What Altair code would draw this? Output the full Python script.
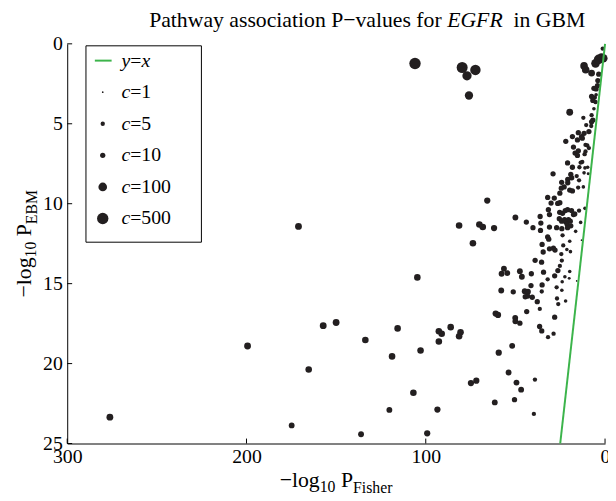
import altair as alt
import pandas as pd

# ---------------- data ----------------
fisher = [276.2, 199.4, 171.0, 174.8, 165.3, 157.2, 150.0, 133.7, 136.1, 115.7,
          118.8, 120.3, 81.4, 70.1, 68.2, 61.9, 73.7, 104.7, 92.7, 91.1,
          86.1, 80.6, 81.4, 92.7, 102.9, 106.9, 93.5, 99.2, 61.0, 59.7,
          74.8, 71.8, 59.3, 61.5, 53.8, 51.8, 49.4, 46.8, 50.5, 39.1,
          39.7, 50.1, 50.0, 47.5, 43.7, 36.5, 35.3, 31.8, 28.7, 28.1,
          36.4, 57.9, 51.2, 57.7, 56.4, 54.5, 47.5, 46.4, 41.1, 34.3,
          32.0, 28.1, 26.3, 41.3, 35.1, 44.8, 43.0, 44.5, 43.1, 40.6,
          35.3, 37.8, 27.0, 24.1, 26.8, 26.1, 22.0, 23.9, 22.4, 19.7,
          20.0, 15.8, 13.1, 35.1, 34.5, 31.0, 28.8, 27.9, 23.3, 24.4,
          21.3, 19.3, 19.7, 39.0, 35.4, 24.1, 25.2, 65.7, 50.0, 43.9,
          40.2, 36.2, 35.8, 36.0, 31.6, 31.0, 31.0, 32.0, 31.4, 32.0,
          28.3, 30.1, 26.4, 25.2, 25.2, 24.4, 29.0, 24.2, 22.8, 20.8,
          20.8, 19.1, 18.6, 19.7, 18.2, 15.8, 14.5, 15.0, 12.1, 20.9,
          18.2, 14.3, 12.7, 13.6, 11.2, 11.7, 9.7, 9.4, 17.6, 16.7,
          15.4, 14.9, 11.4, 10.9, 9.9, 9.0, 21.9, 25.3, 23.7, 22.2,
          20.9, 18.7, 17.6, 16.9, 25.5, 24.2, 22.6, 21.9, 20.4, 19.4,
          21.1, 19.1, 14.5, 11.2, 13.6, 16.4, 24.1, 20.9, 27.0, 23.7,
          14.9, 13.1, 11.7, 18.2, 9.0, 10.5, 15.4, 12.7, 10.9, 19.7,
          12.1, 6.8, 7.5, 7.7, 7.5, 6.2, 5.3, 5.7, 7.5, 6.8,
          5.0, 5.0, 6.2, 4.0, 4.2, 7.5, 3.5, 11.7, 10.8, 106.0,
          79.7, 72.3, 77.0, 75.9, 5.3, 3.5, 2.0, 1.0, 1.3]

ebm = [23.35, 18.9, 11.42, 23.87, 20.37, 17.63, 17.43, 18.52, 24.42, 17.8,
       19.55, 22.9, 11.36, 11.3, 11.46, 11.52, 12.47, 14.61, 17.98, 18.13,
       17.72, 18.04, 18.29, 18.62, 19.18, 21.83, 22.88, 24.36, 16.87, 16.96,
       21.22, 21.07, 19.32, 22.43, 20.56, 18.89, 21.19, 21.63, 22.26, 21.0,
       23.15, 17.14, 17.35, 17.47, 16.75, 17.68, 17.96, 18.35, 18.13, 17.1,
       16.58, 15.43, 15.51, 14.38, 14.07, 14.34, 14.22, 14.57, 14.38, 14.28,
       14.73, 14.51, 14.18, 15.12, 15.08, 15.47, 15.51, 15.82, 15.78, 15.85,
       15.49, 16.13, 15.23, 15.41, 15.93, 16.28, 16.09, 14.88, 14.57, 14.24,
       14.67, 14.83, 12.28, 12.55, 13.02, 12.82, 12.78, 12.9, 12.61, 13.15,
       12.86, 13.0, 12.35, 13.54, 13.66, 13.56, 13.89, 9.8, 10.86, 11.15,
       11.5, 10.8, 11.21, 11.67, 10.37, 10.68, 11.46, 12.08, 12.22, 9.61,
       9.65, 9.96, 9.98, 9.94, 9.34, 9.03, 8.13, 8.66, 8.95, 8.48,
       8.69, 8.17, 8.38, 9.15, 9.2, 8.27, 8.54, 8.99, 8.95, 7.45,
       7.72, 7.72, 7.39, 7.43, 7.76, 8.07, 7.72, 8.13, 6.46, 6.83,
       6.98, 6.69, 6.9, 6.73, 6.36, 6.52, 6.1, 10.54, 10.6, 10.43,
       10.37, 10.43, 10.68, 10.64, 10.94, 11.09, 10.99, 11.15, 11.0, 11.09,
       11.3, 11.38, 10.43, 10.29, 11.17, 11.73, 11.56, 11.5, 11.5, 11.98,
       5.56, 5.8, 5.6, 5.8, 5.49, 5.08, 6.01, 5.9, 6.32, 4.28,
       4.63, 4.77, 4.88, 5.14, 4.46, 4.06, 3.64, 3.35, 3.29, 3.54,
       3.19, 2.82, 2.78, 2.3, 2.61, 1.83, 1.9, 1.38, 1.62, 1.23,
       1.48, 1.63, 2.0, 3.23, 1.22, 0.97, 0.86, 0.9, 0.3]

count = [30, 30, 30, 15, 25, 30, 30, 25, 15, 25,
         25, 15, 25, 25, 25, 20, 25, 25, 25, 25,
         25, 25, 25, 25, 25, 25, 20, 20, 20, 20,
         20, 20, 20, 15, 15, 15, 15, 15, 10, 5,
         5, 15, 15, 10, 10, 10, 10, 5, 5, 10,
         5, 15, 10, 15, 15, 15, 15, 15, 10, 10,
         5, 10, 10, 10, 10, 15, 15, 10, 10, 10,
         5, 10, 5, 3, 5, 5, 3, 3, 3, 3,
         2, 1, 1, 10, 10, 10, 10, 10, 5, 5,
         3, 3, 3, 10, 10, 5, 5, 20, 15, 10,
         10, 10, 10, 10, 10, 10, 10, 10, 10, 10,
         10, 10, 10, 10, 10, 10, 10, 10, 10, 10,
         10, 10, 10, 10, 10, 5, 5, 5, 3, 10,
         10, 5, 5, 5, 3, 3, 3, 2, 10, 10,
         10, 10, 5, 5, 5, 5, 10, 10, 10, 10,
         10, 10, 10, 10, 10, 10, 10, 10, 10, 10,
         10, 10, 5, 3, 3, 3, 10, 10, 10, 5,
         10, 10, 10, 10, 10, 5, 10, 10, 5, 30,
         5, 10, 10, 5, 5, 3, 5, 5, 10, 10,
         3, 10, 10, 10, 10, 30, 10, 50, 50, 500,
         400, 300, 150, 80, 100, 200, 100, 100, 5]

line_x = [0, 25]
line_y = [0, 25]

x_ticks = [0, 100, 200, 300]
y_ticks = [0, 5, 10, 15, 20, 25]

legend_c = [1, 5, 10, 100, 500]
legend_num = ["1", "5", "10", "100", "500"]

# ---------------- layout / style ----------------
W, H = 545, 405
PAD_L, PAD_T, PAD_R, PAD_B = 60, 33, 3, 60
FONT = "Liberation Serif"
INK = "#231f20"
GREEN = "#3cb44b"
FS = 20       # tick / legend font size
AFS = 22      # axis title font size
SUB = 16      # subscript font size
TFS = 22      # title font size

# Times New Roman advance widths (em) for the strings used
REG = {"P": .556, "a": .444, "t": .278, "h": .5, "w": .722, "y": .5, " ": .25,
       "s": .389, "o": .5, "c": .444, "i": .278, "n": .5, "\u2212": .564,
       "v": .5, "l": .278, "u": .5, "e": .444, "f": .333, "r": .333,
       "G": .722, "B": .667, "M": .889, "g": .5, "=": .564, "F": .556,
       "E": .611, "0": .5, "1": .5}
ITA = {"E": .611, "G": .722, "F": .611, "R": .611, "c": .444, "y": .444,
       "x": .444}


def tw(s, size, italic=False):
    d = ITA if italic else REG
    return sum(d.get(ch, .5) for ch in s) * size


def one():
    return pd.DataFrame({"k": [0]})


def text(s, x, y, size, italic=False, angle=0, align="left",
         baseline="alphabetic"):
    kw = dict(text=s, font=FONT, fontSize=size, color="black", align=align,
              baseline=baseline)
    if italic:
        kw["fontStyle"] = "italic"
    if angle:
        kw["angle"] = angle
    return alt.Chart(one()).mark_text(**kw).encode(
        x=alt.value(x), y=alt.value(y))


xscale = alt.Scale(domain=[0, 300], reverse=True, nice=False, zero=False)
yscale = alt.Scale(domain=[0, 25], reverse=True, nice=False, zero=False)
size_scale = alt.Scale(type="pow", exponent=0.27, domain=[1, 500],
                       range=[3, 133], zero=False)

x_axis = alt.Axis(values=x_ticks, title=None, grid=False, ticks=False,
                  tickSize=0, labelFont=FONT, labelFontSize=FS,
                  labelColor="black", domainColor="black", domainWidth=1,
                  labelPadding=3, labelFlush=False, labelOverlap=False,
                  labelBound=False, format="d")
y_axis = alt.Axis(values=y_ticks, title=None, grid=False, ticks=False,
                  tickSize=0, labelFont=FONT, labelFontSize=FS,
                  labelColor="black", domainColor="black", domainWidth=1,
                  labelPadding=5, labelFlush=False, labelOverlap=False,
                  labelBound=False, format="d")

df = pd.DataFrame({"fisher": fisher, "ebm": ebm, "c": count})

points = alt.Chart(df).mark_circle(color=INK, opacity=1).encode(
    x=alt.X("fisher:Q", scale=xscale, axis=x_axis),
    y=alt.Y("ebm:Q", scale=yscale, axis=y_axis),
    size=alt.Size("c:Q", scale=size_scale, legend=None),
)

diag = alt.Chart(pd.DataFrame({"x": line_x, "y": line_y})).mark_line(
    color=GREEN, strokeWidth=2).encode(
    x=alt.X("x:Q", scale=xscale, axis=x_axis),
    y=alt.Y("y:Q", scale=yscale, axis=y_axis),
)

TL = 5
xticks = alt.Chart(pd.DataFrame({"t": x_ticks})).mark_rule(
    color="black", strokeWidth=1).encode(
    x=alt.X("t:Q", scale=xscale, axis=x_axis),
    y=alt.value(H), y2=alt.value(H - TL))
yticks = alt.Chart(pd.DataFrame({"t": y_ticks})).mark_rule(
    color="black", strokeWidth=1).encode(
    y=alt.Y("t:Q", scale=yscale, axis=y_axis),
    x=alt.value(0), x2=alt.value(TL))

# ---------------- legend ----------------
BX0, BX1, BY0, BY1 = 19, 136, 2, 201
ROW0, DROW = 17, 32
SYMX, TXTX = 36, 55

layers = [points, diag, xticks, yticks]
layers.append(alt.Chart(one()).mark_rect(
    fill="white", stroke="black", strokeWidth=1).encode(
    x=alt.value(BX0), x2=alt.value(BX1), y=alt.value(BY0), y2=alt.value(BY1)))
layers.append(alt.Chart(one()).mark_rule(color=GREEN, strokeWidth=2).encode(
    x=alt.value(SYMX - 8), x2=alt.value(SYMX + 9), y=alt.value(ROW0)))
# "y=x"
xx = TXTX
layers.append(text("y", xx, ROW0, FS, italic=True, baseline="middle"))
xx += tw("y", FS, True)
layers.append(text("=", xx, ROW0, FS, baseline="middle"))
xx += tw("=", FS)
layers.append(text("x", xx, ROW0, FS, italic=True, baseline="middle"))

for i, (cval, lab) in enumerate(zip(legend_c, legend_num)):
    ry = ROW0 + DROW * (i + 1)
    layers.append(alt.Chart(pd.DataFrame({"c": [cval]})).mark_circle(
        color=INK, opacity=1).encode(
        x=alt.value(SYMX), y=alt.value(ry),
        size=alt.Size("c:Q", scale=size_scale, legend=None)))
    layers.append(text("c", TXTX, ry, FS, italic=True, baseline="middle"))
    layers.append(text("=" + lab, TXTX + tw("c", FS, True), ry, FS,
                       baseline="middle"))

# ---------------- title ----------------
t1 = "Pathway association P\u2212values for"
t2 = "EGFR"
t3 = "in GBM"
sp = tw(" ", TFS)
tot = tw(t1, TFS) + sp + tw(t2, TFS, True) + 2 * sp + tw(t3, TFS)
tx = 304 - tot / 2
ty = -17
layers.append(text(t1, tx, ty, TFS))
tx += tw(t1, TFS) + sp
layers.append(text(t2, tx, ty, TFS, italic=True))
tx += tw(t2, TFS, True) + 2 * sp
layers.append(text(t3, tx, ty, TFS))

# ---------------- x-axis title: -log10 P_Fisher ----------------
gap = [0, 0, tw(" ", AFS), 0]
xa = ["\u2212log", "10", "P", "Fisher"]
xs = [AFS, SUB, AFS, SUB]
xd = [0, 5, 0, 6]
tot = sum(tw(s, z) for s, z in zip(xa, xs)) + sum(gap)
px = W / 2 - tot / 2
by = H + 44
for s, z, d, g in zip(xa, xs, xd, gap):
    px += g
    layers.append(text(s, px, by + d, z))
    px += tw(s, z)

# ---------------- y-axis title: -log10 P_EBM (rotated) ----------------
ya = ["\u2212log", "10", "P", "EBM"]
ys = [AFS, SUB, AFS, SUB]
yd = [0, 5, 0, 6]
tot = sum(tw(s, z) for s, z in zip(ya, ys)) + sum(gap)
py = H / 2 + tot / 2
bx = -37
for s, z, d, g in zip(ya, ys, yd, gap):
    py -= g
    layers.append(text(s, bx + d, py, z, angle=270))
    py -= tw(s, z)

chart = alt.layer(*layers).properties(
    width=W, height=H,
    autosize=alt.AutoSizeParams(type="none"),
    padding={"left": PAD_L, "top": PAD_T, "right": PAD_R, "bottom": PAD_B},
).configure_view(stroke=None)

chart.save("out.html", embed_options={"renderer": "svg", "actions": False})
